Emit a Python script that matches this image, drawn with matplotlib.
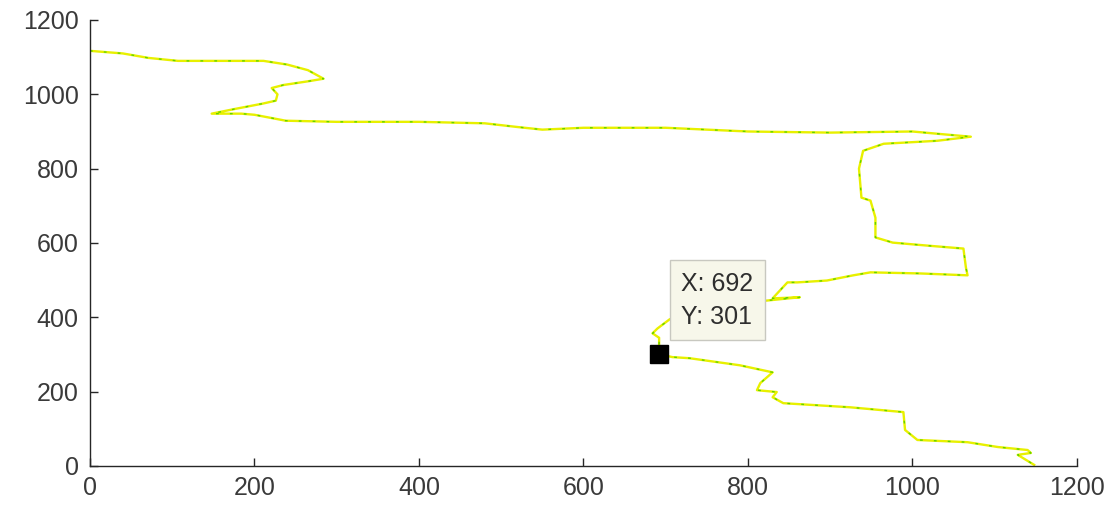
import matplotlib.pyplot as plt

# path (x, y)
path_x = [0, 40, 71, 107, 160, 211, 240, 265, 284, 265, 250, 235, 221, 228, 226, 210,
          177, 148, 184, 200, 238, 300, 400, 480, 520, 550, 600, 700, 800, 900, 1000,
          1040, 1071, 1030, 965, 940, 935, 938, 949, 955, 955, 976, 1018, 1062, 1065,
          1067, 1010, 949, 928, 896, 860, 848, 830, 863, 800, 740, 705, 690, 684, 692,
          692, 708, 729, 790, 830, 815, 811, 835, 830, 843, 924, 989, 991, 1006, 1067,
          1104, 1140, 1144, 1128, 1148]
path_y = [1117, 1110, 1098, 1090, 1090, 1090, 1080, 1065, 1042, 1035, 1030, 1025, 1017,
          1000, 983, 975, 961, 948, 948, 945, 929, 926, 926, 922, 912, 905, 910, 910,
          900, 897, 900, 892, 886, 875, 867, 848, 800, 722, 714, 668, 615, 601, 593, 585,
          534, 513, 518, 521, 513, 499, 494, 494, 451, 454, 440, 415, 395, 370, 357, 345,
          301, 293, 290, 271, 252, 223, 204, 199, 185, 169, 158, 145, 97, 70, 64, 51, 43,
          35, 30, 3]

tip_x = 692
tip_y = 301

x_ticks = [0, 200, 400, 600, 800, 1000, 1200]
y_ticks = [0, 200, 400, 600, 800, 1000, 1200]

plt.rcParams['font.family'] = ['Liberation Sans', 'DejaVu Sans']

fig = plt.figure(figsize=(11.16, 5.18), dpi=100)
ax = fig.add_axes([0.0806, 0.1004, 0.8844, 0.861])

ax.plot(path_x, path_y, color='#e8f000', lw=1.7, solid_joinstyle='round')
ax.plot(path_x, path_y, color='#5fd400', lw=1.0, linestyle=(0, (2, 8)))

ax.plot([tip_x], [tip_y], marker='s', markersize=13.5, color='black', zorder=5)
ax.annotate(f'X: {tip_x}\nY: {tip_y}', xy=(tip_x, tip_y), xytext=(16, 18),
            textcoords='offset points', ha='left', va='bottom', fontsize=18,
            linespacing=1.5, color='#2e2e2e',
            bbox=dict(boxstyle='square,pad=0.45', fc='#f7f7ea', ec='#c8c8c0', lw=1.0),
            zorder=6)

ax.set_xlim(0, 1200)
ax.set_ylim(0, 1200)
ax.set_xticks(x_ticks)
ax.set_yticks(y_ticks)
for s in ['top', 'right']:
    ax.spines[s].set_visible(False)
for s in ['left', 'bottom']:
    ax.spines[s].set_color('#262626')
    ax.spines[s].set_linewidth(1.0)
ax.tick_params(direction='in', length=6, width=1.0, colors='#262626',
               labelsize=18, pad=8)
ax.tick_params(axis='both', labelcolor='#3a3a3a')
ax.tick_params(axis='x', pad=7)

fig.savefig('out.png', dpi=100)
